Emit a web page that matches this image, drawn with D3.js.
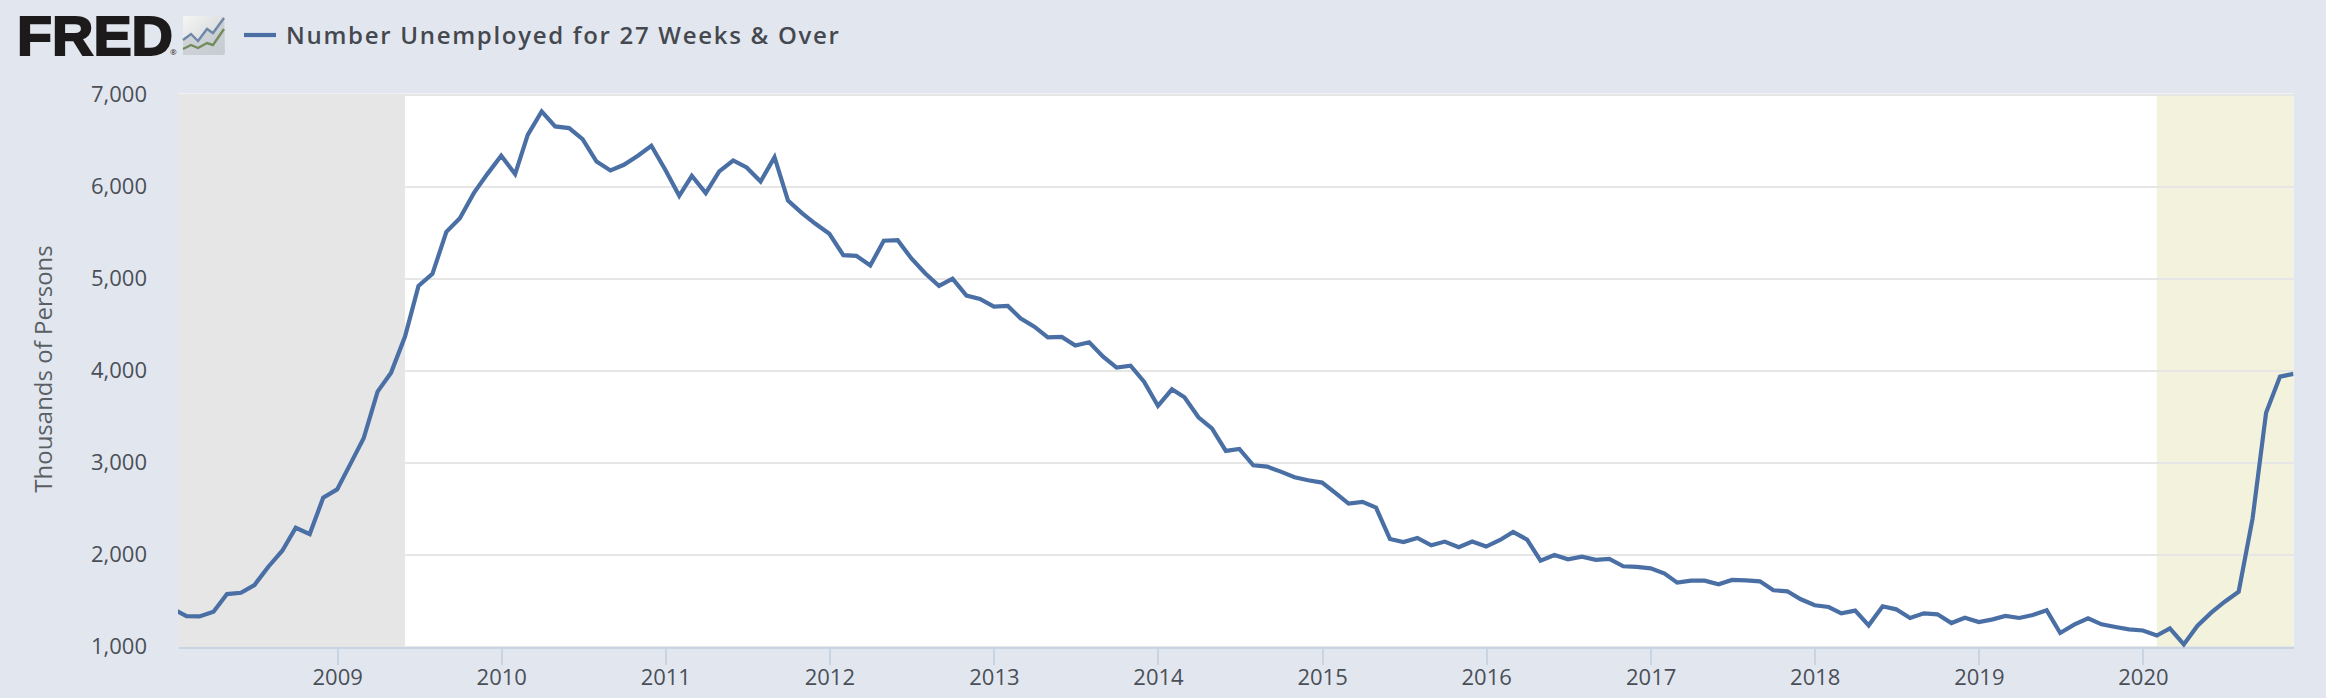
<!DOCTYPE html>
<html>
<head>
<meta charset="utf-8">
<title>Number Unemployed for 27 Weeks & Over</title>
<script src="https://cdn.jsdelivr.net/npm/d3@7"></script>
<style>
    html, body { margin: 0; padding: 0; background: #e2e7ef; }
    svg { display: block; font-family: "Open Sans", sans-serif; }
    .axis path, .axis line { shape-rendering: crispEdges; }
</style>
</head>
<body>
<div id="chart"></div>
<script>
// ===================================
// DATA (thousands of persons, monthly)
// ===================================
const firstMonth = "2008-01-01";
const lastMonth = "2020-12-01";

const values2008 = [1410, 1333, 1329, 1380, 1572, 1586, 1670, 1869, 2043, 2292, 2224, 2618];
const values2009 = [2709, 3000, 3265, 3772, 3978, 4370, 4920, 5051, 5508, 5656, 5928, 6135];
const values2010 = [6334, 6135, 6562, 6816, 6653, 6635, 6515, 6272, 6175, 6236, 6334, 6443];
const values2011 = [6182, 5899, 6117, 5928, 6164, 6283, 6207, 6055, 6319, 5848, 5711, 5595];
const values2012 = [5486, 5254, 5247, 5142, 5411, 5417, 5221, 5058, 4920, 5000, 4815, 4779];
const values2013 = [4696, 4703, 4569, 4478, 4362, 4366, 4272, 4308, 4152, 4033, 4054, 3880];
const values2014 = [3616, 3797, 3710, 3493, 3373, 3127, 3149, 2971, 2957, 2902, 2841, 2808];
const values2015 = [2783, 2667, 2555, 2573, 2512, 2171, 2138, 2182, 2102, 2142, 2080, 2142];
const values2016 = [2088, 2160, 2247, 2164, 1935, 1997, 1950, 1979, 1943, 1954, 1874, 1867];
const values2017 = [1852, 1794, 1696, 1718, 1718, 1678, 1725, 1721, 1710, 1613, 1602, 1515];
const values2018 = [1450, 1431, 1363, 1392, 1232, 1439, 1406, 1312, 1363, 1352, 1257, 1315];
const values2019 = [1268, 1297, 1334, 1312, 1344, 1395, 1149, 1239, 1308, 1243, 1214, 1189];
const values2020 = [1176, 1121, 1199, 1025, 1225, 1370, 1489, 1598, 2395, 3543, 3935, 3964];

const yTicks = [1000, 2000, 3000, 4000, 5000, 6000, 7000];
const xTickYears = [2009, 2010, 2011, 2012, 2013, 2014, 2015, 2016, 2017, 2018, 2019, 2020];

// Shaded periods, the first one starts before the window
const shadeNames = ["recession", "covid"];
const shadeStarts = ["2007-12-01", "2020-02-01"];
const shadeEnds = ["2009-06-01", "2020-12-01"];

const seriesName = "Number Unemployed for 27 Weeks & Over";
const yAxisLabel = "Thousands of Persons";

// ===================================
// CHART CONFIGURATION
// ===================================
const width = 2326;
const height = 698;
const margin = { top: 94.5, right: 32.5, bottom: 51.3, left: 178 };
const innerWidth = width - margin.left - margin.right;
const innerHeight = height - margin.top - margin.bottom;

const parseDate = d3.utcParse("%Y-%m-%d");

const svg = d3.select("#chart").append("svg")
    .attr("width", width)
    .attr("height", height);

const g = svg.append("g")
    .attr("transform", `translate(${margin.left},${margin.top})`);

// ===================================
// SCALES
// ===================================
const months = d3.utcMonth.range(parseDate(firstMonth), d3.utcMonth.offset(parseDate(lastMonth), 1));
const allValues = [].concat(values2008, values2009, values2010, values2011, values2012, values2013,
    values2014, values2015, values2016, values2017, values2018, values2019, values2020);
const series = months.map((d, i) => ({ date: d, value: allValues[i] }));

// the window opens a little after the first observation, so the line starts cut off
const xScale = d3.scaleUtc()
    .domain([parseDate("2008-01-13"), parseDate(lastMonth)])
    .range([0, innerWidth]);

const yScale = d3.scaleLinear()
    .domain([yTicks[0], yTicks[yTicks.length - 1]])
    .range([innerHeight, 0]);

const shadeColor = d3.scaleOrdinal()
    .domain(shadeNames)
    .range(["#e6e6e6", "#f3f3dd"]);

const defs = svg.append("defs");

defs.append("clipPath")
    .attr("id", "plot-clip")
    .append("rect")
    .attr("y", -1)
    .attr("width", innerWidth)
    .attr("height", innerHeight + 3);

// ===================================
// PLOT BACKGROUND AND SHADING
// ===================================
g.append("rect")
    .attr("y", -1)
    .attr("width", innerWidth)
    .attr("height", innerHeight + 1)
    .attr("fill", "#fff");

g.append("g")
    .attr("clip-path", "url(#plot-clip)")
    .selectAll("rect")
    .data(shadeNames)
    .join("rect")
    .attr("x", (d, i) => xScale(parseDate(shadeStarts[i])))
    .attr("y", -1)
    .attr("width", (d, i) => xScale(parseDate(shadeEnds[i])) - xScale(parseDate(shadeStarts[i])))
    .attr("height", innerHeight + 1)
    .attr("fill", d => shadeColor(d));

// ===================================
// AXES AND GRID
// ===================================
const grid = g.append("g")
    .attr("class", "axis grid")
    .call(d3.axisLeft(yScale)
        .tickValues(yTicks)
        .tickSize(-innerWidth)
        .tickFormat(""));
grid.select(".domain").remove();
grid.selectAll("text").remove();
grid.selectAll("line")
    .attr("stroke", "#e6e6e6")
    .attr("stroke-width", 2);

const yAxis = g.append("g")
    .attr("class", "axis y-axis")
    .call(d3.axisLeft(yScale)
        .tickValues(yTicks)
        .tickSize(0)
        .tickPadding(31)
        .tickFormat(d3.format(",")));
yAxis.select(".domain").remove();
yAxis.selectAll("text")
    .attr("font-size", "22px")
    .attr("font-family", "'Open Sans', sans-serif")
    .attr("fill", "#4a4f57");

const xAxis = g.append("g")
    .attr("class", "axis x-axis")
    .attr("transform", `translate(0,${innerHeight + 1})`)
    .call(d3.axisBottom(xScale)
        .tickValues(xTickYears.map(y => new Date(Date.UTC(y, 0, 1))))
        .tickSize(17)
        .tickSizeOuter(0)
        .tickPadding(5)
        .tickFormat(d3.utcFormat("%Y")));
xAxis.select(".domain")
    .attr("stroke", "#c8d4e2")
    .attr("stroke-width", 2.5);
xAxis.selectAll("line")
    .attr("stroke", "#c8d4e2")
    .attr("stroke-width", 2);
xAxis.selectAll("text")
    .attr("font-size", "22px")
    .attr("font-family", "'Open Sans', sans-serif")
    .attr("fill", "#4a4f57");

// Y-axis label
svg.append("text")
    .attr("transform", "rotate(-90)")
    .attr("x", -369)
    .attr("y", 52)
    .attr("text-anchor", "middle")
    .attr("font-size", "24px")
    .attr("fill", "#5a5f66")
    .text(yAxisLabel);

// ===================================
// LINE
// ===================================
const line = d3.line()
    .x(d => xScale(d.date))
    .y(d => yScale(d.value));

g.append("path")
    .datum(series)
    .attr("clip-path", "url(#plot-clip)")
    .attr("fill", "none")
    .attr("stroke", "#4a6fa5")
    .attr("stroke-width", 4.2)
    .attr("stroke-linejoin", "miter")
    .attr("d", line);

// ===================================
// HEADER: LOGO AND LEGEND
// ===================================
const logo = svg.append("g").attr("class", "logo");

logo.append("text")
    .attr("x", 17)
    .attr("y", 55)
    .attr("font-family", "'Liberation Sans', Arial, sans-serif")
    .attr("font-weight", 700)
    .attr("font-size", "56px")
    .attr("fill", "#1c1a1a")
    .attr("stroke", "#1c1a1a")
    .attr("stroke-width", 2)
    .attr("textLength", 156)
    .attr("lengthAdjust", "spacingAndGlyphs")
    .text("FRED");

logo.append("text")
    .attr("x", 170)
    .attr("y", 55)
    .attr("font-size", "8px")
    .attr("fill", "#1c1a1a")
    .text("®");

// small chart icon next to the wordmark
const iconGradient = defs.append("linearGradient")
    .attr("id", "icon-bg")
    .attr("x1", "0").attr("y1", "0")
    .attr("x2", "1").attr("y2", "1");
iconGradient.append("stop").attr("offset", "0").attr("stop-color", "#f5f5f4");
iconGradient.append("stop").attr("offset", "1").attr("stop-color", "#c9cdd0");

logo.append("rect")
    .attr("x", 183)
    .attr("y", 16)
    .attr("width", 42)
    .attr("height", 39)
    .attr("rx", 2)
    .attr("fill", "url(#icon-bg)");

const iconBlue = [[183, 40], [191, 34], [198, 41], [207, 29], [213, 33], [224, 18]];
const iconGreen = [[183, 49], [191, 45], [198, 48], [207, 43], [213, 45], [224, 29]];

// grey area under the two small lines
logo.append("path")
    .attr("d", d3.area().y0(55)(iconBlue))
    .attr("fill", "#c5cbd1")
    .attr("fill-opacity", 0.7);

logo.append("path")
    .attr("d", d3.line()(iconBlue))
    .attr("fill", "none")
    .attr("stroke", "#6f88a8")
    .attr("stroke-width", 2.4);

logo.append("path")
    .attr("d", d3.line()(iconGreen))
    .attr("fill", "none")
    .attr("stroke", "#748c5c")
    .attr("stroke-width", 2.4);

// Legend
svg.append("line")
    .attr("x1", 244)
    .attr("x2", 276)
    .attr("y1", 35)
    .attr("y2", 35)
    .attr("stroke", "#4a6fa5")
    .attr("stroke-width", 4.2);

svg.append("text")
    .attr("x", 286)
    .attr("y", 44)
    .attr("font-size", "24px")
    .attr("font-weight", 600)
    .attr("letter-spacing", "1.7px")
    .attr("fill", "#45494f")
    .text(seriesName);
</script>
</body>
</html>
